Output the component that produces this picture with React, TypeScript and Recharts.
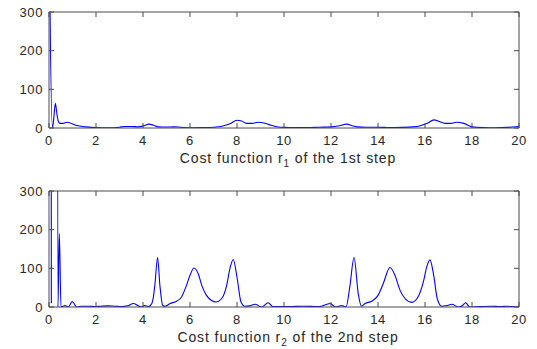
import React from 'react';
import { LineChart, Line, XAxis, YAxis, Label } from 'recharts';

// Cost function r1 (1st step)
const r1X = [0, 0.03, 0.15, 0.21, 0.27, 0.34, 0.4, 0.47, 0.6, 0.75, 0.9, 1.1, 1.3, 1.55, 1.8, 2.2, 2.6, 3.0, 3.2, 3.5, 3.8, 4.05, 4.25, 4.45, 4.65, 5.0, 5.3, 5.6, 6.0, 6.5, 7.0, 7.4, 7.7, 8.0, 8.2, 8.4, 8.65, 8.9, 9.15, 9.45, 9.75, 10.0, 10.5, 11.0, 11.5, 12.0, 12.3, 12.67, 12.9, 13.1, 13.5, 14.0, 14.5, 15.0, 15.5, 15.8, 16.1, 16.38, 16.6, 16.85, 17.1, 17.35, 17.65, 18.0, 18.5, 19.0, 19.5, 20.0];
const r1Y = [1500, 400, 0, 30, 64, 35, 17, 12, 12, 15, 13, 8, 5, 3, 1.5, 0.5, 0.5, 2, 4, 4, 3, 6, 10, 7, 3, 2.5, 3, 2, 0.5, 1, 2, 5, 11, 20, 18, 12, 12, 15, 13, 7, 2.5, 1.5, 1, 1, 2, 3, 5, 10, 6, 3, 2, 2, 1, 1.5, 3, 6, 12, 21, 17, 12, 12, 15, 12, 3, 1, 0.5, 1.5, 4];

// Cost function r2 (2nd step)
const r2X = [0.08, 0.1, 0.2, 0.34, 0.38, 0.44, 0.51, 0.6, 0.68, 0.82, 0.99, 1.18, 1.4, 1.7, 1.96, 2.2, 2.5, 2.8, 3.1, 3.35, 3.59, 3.8, 3.94, 4.06, 4.23, 4.38, 4.44, 4.51, 4.62, 4.72, 4.84, 4.94, 5.15, 5.43, 5.64, 5.85, 6.0, 6.17, 6.35, 6.5, 6.7, 6.92, 7.1, 7.35, 7.56, 7.7, 7.84, 8.01, 8.17, 8.34, 8.55, 8.77, 9.05, 9.33, 9.52, 9.8, 10.2, 10.8, 11.5, 11.96, 12.2, 12.45, 12.64, 12.8, 12.98, 13.16, 13.3, 13.45, 13.73, 14.0, 14.22, 14.51, 14.72, 14.94, 15.15, 15.43, 15.72, 15.93, 16.08, 16.21, 16.38, 16.52, 16.71, 16.95, 17.14, 17.42, 17.6, 17.73, 17.9, 18.3, 18.8, 19.2, 19.5, 19.9, 20.0];
const r2Y = [2000, 10, null, 2000, 0, 190, 0, 2, 4, 0, 14, 0, 2, 2, 1, 2, 3, 2, 1, 3, 9, 3, 0, 4, 1, 10, 25, 60, 128, 55, 4, 2, 9, 15, 26, 56, 82, 101, 86, 56, 30, 17, 13, 22, 56, 100, 123, 73, 13, 2, 3, 7, 0, 11, 1, 1, 1, 2, 1, 9, 0, 4, 0, 52, 128, 34, 2, 9, 15, 30, 60, 102, 82, 43, 22, 12, 28, 65, 105, 122, 78, 22, 2, 4, 7, 0, 4, 11, 0, 1, 2, 1, 2, 0, 1];

const xTicks = [0, 2, 4, 6, 8, 10, 12, 14, 16, 18, 20];
const yTicks = [0, 100, 200, 300];

const r1Data = r1X.map((x, i) => ({ x, y: r1Y[i] }));
const r2Data = r2X.map((x, i) => ({ x, y: r2Y[i] }));

const FONT = '"Liberation Sans", Arial, Helvetica, sans-serif';
const TEXT = '#262626';
const AXIS = '#4a4a4a';
const tickStyle = { fontSize: 13, fill: TEXT, fontFamily: FONT, letterSpacing: 0.6 };
const noTick = () => <g />;

function Title({ viewBox, sub, rest }: any) {
  const cx = viewBox.x + viewBox.width / 2 + 4;
  const y = viewBox.y + 34.5;
  return (
    <text x={cx} y={y} textAnchor="middle" fontSize={14} fill={TEXT} fontFamily={FONT} letterSpacing={0.9}>
      <tspan>Cost function r</tspan>
      <tspan dy={4} fontSize={10}>{sub}</tspan>
      <tspan dy={-4}>{rest}</tspan>
    </text>
  );
}

function Panel({ data, sub, rest }: { data: any[]; sub: string; rest: string }) {
  return (
    <LineChart width={537} height={175} data={data} margin={{ top: 7, right: 13, bottom: 7, left: 9 }}>
      <XAxis
        dataKey="x"
        type="number"
        domain={[0, 20]}
        ticks={xTicks}
        allowDataOverflow
        height={40}
        tickSize={-5}
        tickMargin={13}
        tick={tickStyle}
        stroke={AXIS}
        tickLine={{ stroke: AXIS }}
        axisLine={{ stroke: AXIS }}
        interval={0}
      >
        <Label content={(p: any) => <Title viewBox={p.viewBox} sub={sub} rest={rest} />} />
      </XAxis>
      <XAxis
        xAxisId="top"
        orientation="top"
        dataKey="x"
        type="number"
        domain={[0, 20]}
        ticks={xTicks}
        allowDataOverflow
        height={5}
        tickSize={-5}
        tick={noTick}
        stroke={AXIS}
        interval={0}
      />
      <YAxis
        type="number"
        domain={[0, 300]}
        ticks={yTicks}
        allowDataOverflow
        width={40}
        tickSize={-5}
        tickMargin={11}
        tick={tickStyle}
        stroke={AXIS}
        interval={0}
      />
      <YAxis
        yAxisId="right"
        orientation="right"
        type="number"
        domain={[0, 300]}
        ticks={yTicks}
        allowDataOverflow
        width={5}
        tickSize={-5}
        tick={noTick}
        stroke={AXIS}
        interval={0}
      />
      <Line
        dataKey="y"
        type="monotone"
        stroke="#0000ff"
        strokeWidth={1.1}
        dot={false}
        isAnimationActive={false}
        connectNulls={false}
      />
    </LineChart>
  );
}

export default function App() {
  return (
    <div style={{ position: 'absolute', left: 0, top: 0, width: 537, height: 349, background: '#fff' }}>
      <div style={{ position: 'absolute', left: 0, top: 0 }}>
        <Panel data={r1Data} sub="1" rest=" of the 1st step" />
      </div>
      <div style={{ position: 'absolute', left: 0, top: 179 }}>
        <Panel data={r2Data} sub="2" rest=" of the 2nd step" />
      </div>
    </div>
  );
}
